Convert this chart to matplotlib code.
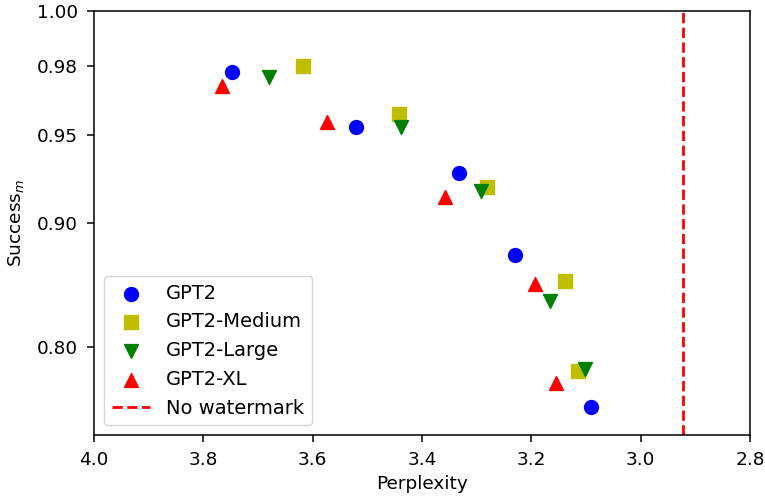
import matplotlib
matplotlib.use("Agg")
import matplotlib.pyplot as plt
import numpy as np
from matplotlib.ticker import FixedLocator, NullLocator, FormatStrFormatter

# perplexity (x) and success rate (y) for each model size
gpt2_ppl = [3.748, 3.521, 3.332, 3.229, 3.090]
gpt2_succ = [0.978, 0.954, 0.930, 0.878, 0.735]

medium_ppl = [3.618, 3.443, 3.282, 3.138, 3.115]
medium_succ = [0.980, 0.960, 0.922, 0.858, 0.775]

large_ppl = [3.680, 3.438, 3.292, 3.165, 3.102]
large_succ = [0.976, 0.954, 0.920, 0.842, 0.778]

xl_ppl = [3.765, 3.573, 3.358, 3.193, 3.155]
xl_succ = [0.972, 0.956, 0.916, 0.856, 0.763]

no_watermark_ppl = 2.923

y_ticks = [0.80, 0.90, 0.95, 0.98, 1.00]
x_ticks = [4.0, 3.8, 3.6, 3.4, 3.2, 3.0, 2.8]


def forward(y):
    return -np.log(1.1 - np.asarray(y))


def inverse(f):
    return 1.1 - np.exp(-np.asarray(f))


plt.rcParams["font.size"] = 13.3
plt.rcParams["axes.linewidth"] = 1.1

fig = plt.figure(figsize=(7.65, 4.97), dpi=100)
ax = fig.add_axes([0.1229, 0.1247, 0.8575, 0.8538])

ax.scatter(gpt2_ppl, gpt2_succ, color="b", marker="o", s=100, label="GPT2")
ax.scatter(medium_ppl, medium_succ, color="y", marker="s", s=100, label="GPT2-Medium")
ax.scatter(large_ppl, large_succ, color="g", marker="v", s=100, label="GPT2-Large")
ax.scatter(xl_ppl, xl_succ, color="r", marker="^", s=100, label="GPT2-XL")
ax.axvline(no_watermark_ppl, color="r", linestyle="--", linewidth=2, label="No watermark")

ax.set_yscale("function", functions=(forward, inverse))
ax.set_ylim(0.70, 1.00)
ax.yaxis.set_major_locator(FixedLocator(y_ticks))
ax.yaxis.set_minor_locator(NullLocator())
ax.yaxis.set_major_formatter(FormatStrFormatter("%.2f"))

ax.set_xlim(4.0, 2.8)
ax.set_xticks(x_ticks)
ax.tick_params(length=5, width=1.1, pad=6.5)

ax.set_xlabel("Perplexity")
ax.set_ylabel("Success$_m$", labelpad=8)
ax.legend(loc="lower left", fontsize=14)

fig.savefig("out.png", dpi=100)
